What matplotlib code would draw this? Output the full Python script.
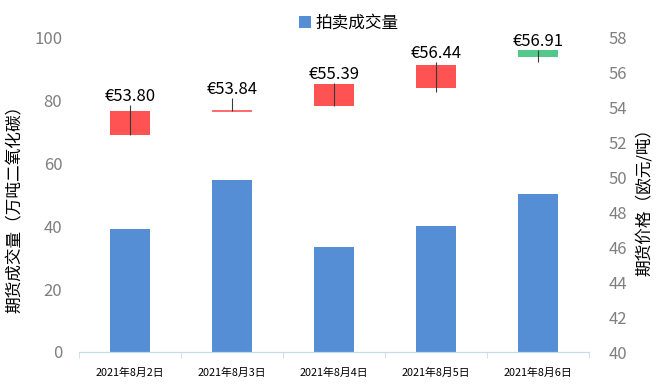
import matplotlib
matplotlib.use("Agg")
import matplotlib.pyplot as plt
import numpy as np

plt.rcParams['font.family'] = ['Noto Sans CJK SC', 'DejaVu Sans']

dates = ["2021年8月2日", "2021年8月3日", "2021年8月4日", "2021年8月5日", "2021年8月6日"]
volume = [39.2, 54.8, 33.4, 40.1, 50.3]

price_open = [52.45, 53.84, 54.12, 55.15, 57.32]
price_high = [54.16, 54.56, 55.42, 56.63, 57.32]
price_low = [52.45, 53.82, 54.10, 54.90, 56.60]
price_close = [53.80, 53.84, 55.39, 56.44, 56.91]

bar_color = "#558ED5"
up_color = "#FF5252"
down_color = "#52C98A"
axis_color = "#C9DAEE"
tick_gray = "#7F7F7F"

fig = plt.figure(figsize=(6.61, 3.85), dpi=100)
ax = fig.add_axes([79 / 661, 1 - 352 / 385, 510 / 661, 314 / 385])
ax2 = ax.twinx()

x = np.arange(len(dates))
bw = 0.4
ax.bar(x, volume, width=bw, color=bar_color, label="拍卖成交量", zorder=2)

# candlesticks on the price axis
for i in range(len(dates)):
    o, h, l, c = price_open[i], price_high[i], price_low[i], price_close[i]
    col = up_color if c >= o else down_color
    ax2.vlines(x[i], l, h, color="#3a3a3a", lw=0.8, zorder=4)
    if abs(c - o) < 0.02:
        ax2.hlines(c, x[i] - bw / 2, x[i] + bw / 2, color=col, lw=1.2, zorder=3)
    else:
        ax2.bar(x[i], abs(c - o), bottom=min(o, c), width=bw, color=col, zorder=3)
    ax2.annotate(f"€{c:.2f}", (x[i], h), xytext=(0, 6), textcoords="offset points",
                 ha="center", va="center", fontsize=12, color="black", zorder=5)

ax.set_xlim(-0.5, len(dates) - 0.5)
ax.set_ylim(0, 100)
ax2.set_ylim(40, 58)
ax.set_yticks(np.arange(0, 101, 20))
ax2.set_yticks(np.arange(40, 59, 2))

ax.set_xticks(x)
ax.set_xticklabels(dates, fontsize=7.8)
ax.set_xticks(np.arange(-0.5, len(dates), 1), minor=True)
ax.tick_params(axis="x", which="major", length=0, pad=11)
ax.tick_params(axis="x", which="minor", length=4, color=axis_color)
ax.tick_params(axis="y", length=0, labelsize=12, labelcolor=tick_gray, pad=12)
ax2.tick_params(axis="y", length=0, labelsize=12, labelcolor=tick_gray, pad=14)

for a in (ax, ax2):
    for s in ("top", "left", "right"):
        a.spines[s].set_visible(False)
    a.spines["bottom"].set_color(axis_color)

ax.set_ylabel("期货成交量（万吨二氧化碳）", fontsize=12, va="center")
ax.yaxis.set_label_coords(-64 / 510, (352 - 205) / 314)
ax2.set_ylabel("期货价格（欧元/吨）", fontsize=12, rotation=90, va="center")
ax2.yaxis.set_label_coords((644 - 79) / 510, (352 - 198) / 314)

fig.legend(loc="upper center", bbox_to_anchor=(0.528, 1.0), frameon=False,
           fontsize=12, handlelength=0.7, handleheight=0.7, handletextpad=0.3)

fig.savefig("out.png", dpi=100)
